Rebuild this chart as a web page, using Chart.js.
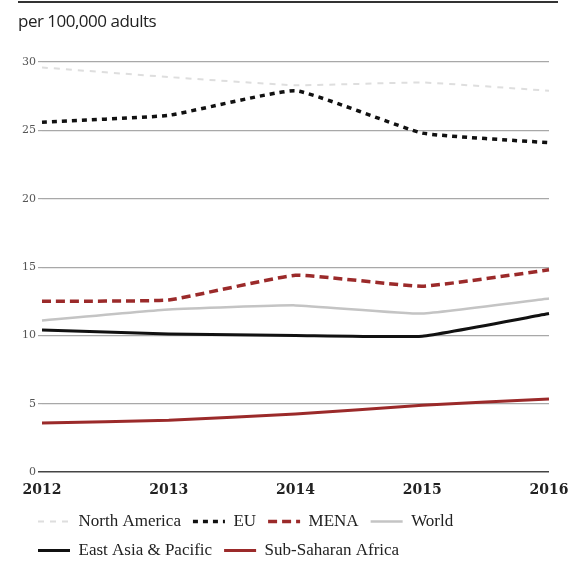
<!DOCTYPE html>
<html>
<head>
<meta charset="utf-8">
<script src="https://cdn.jsdelivr.net/npm/chart.js@4"></script>
<style>
  body { margin: 0; background: #fff; }
  #wrap { position: relative; width: 571px; height: 561px; }
  #rule { position: absolute; left: 18px; top: 1px; width: 540px; border-top: 2px solid #333; }
  #title { position: absolute; left: 18px; top: 9px; font-family: "Open Sans", sans-serif; font-size: 17px; color: #222; letter-spacing: -0.5px; }
  #myChart { position: absolute; left: 0; top: 0; }
</style>
</head>
<body>
<div id="wrap">
  <canvas id="myChart" width="571" height="561"></canvas>
  <div id="rule"></div>
  <div id="title">per 100,000 adults</div>
</div>
<script>
const years = ['2012', '2013', '2014', '2015', '2016'];
const northAmerica = [29.6, 28.9, 28.3, 28.5, 27.9];
const eu = [25.6, 26.1, 27.9, 24.8, 24.1];
const mena = [12.5, 12.6, 14.4, 13.6, 14.8];
const world = [11.1, 11.9, 12.2, 11.6, 12.7];
const eastAsia = [10.4, 10.1, 10.0, 9.95, 11.6];
const subSaharan = [3.6, 3.8, 4.25, 4.9, 5.35];

const ctx = document.querySelector('#myChart').getContext('2d');

// nudge the legend right so it lines up under the plot
const legendShift = {
    id: 'legendShift',
    afterLayout(chart) {
        chart.legend.left += 10;
        chart.legend.right += 10;
    },
};

const myChart = new Chart(ctx, {
    type: 'line',
    data: {
        labels: years,
        datasets: [
            { label: 'North America', data: northAmerica, borderColor: '#dedede', borderWidth: 2, borderDash: [6, 6] },
            { label: 'EU', data: eu, borderColor: '#111', borderWidth: 3.5, borderDash: [5, 5] },
            { label: 'MENA', data: mena, borderColor: '#9b2a2a', borderWidth: 3.5, borderDash: [9, 5] },
            { label: 'World', data: world, borderColor: '#c4c4c4', borderWidth: 2.5 },
            { label: 'East Asia & Pacific', data: eastAsia, borderColor: '#111', borderWidth: 3 },
            { label: 'Sub-Saharan Africa', data: subSaharan, borderColor: '#9b2a2a', borderWidth: 3 },
        ],
    },
    plugins: [legendShift],
    options: {
        responsive: false,
        animation: false,
        layout: { padding: { top: 62, right: 22, left: 16, bottom: -8 } },
        elements: { point: { radius: 0 }, line: { tension: 0.12, borderCapStyle: 'butt' } },
        plugins: {
            legend: {
                position: 'bottom',
                align: 'start',
                labels: {
                    usePointStyle: true,
                    pointStyle: 'line',
                    pointStyleWidth: 32,
                    boxWidth: 32,
                    color: '#222',
                    padding: 12,
                    font: { family: '"Liberation Serif", serif', size: 17 },
                    // legend swatches should copy the dataset line, dashes included
                    generateLabels: (chart) => chart.data.datasets.map((ds, i) => ({
                        text: ds.label,
                        datasetIndex: i,
                        strokeStyle: ds.borderColor,
                        fillStyle: ds.borderColor,
                        lineWidth: ds.borderWidth,
                        lineDash: ds.borderDash || [],
                        pointStyle: 'line',
                        hidden: false,
                        fontColor: '#222',
                    })),
                },
            },
            tooltip: { enabled: false },
        },
        scales: {
            x: {
                grid: { display: false },
                border: { display: false },
                ticks: {
                    color: '#222',
                    padding: 2,
                    maxRotation: 0,
                    font: { family: '"DejaVu Serif", serif', size: 14, weight: 'bold' },
                },
            },
            y: {
                min: 0,
                max: 30,
                border: { display: false },
                afterFit: (scale) => { scale.width = 26; },
                grid: {
                    color: (c) => c.tick.value === 0 ? '#444' : '#a8a8a8',
                    lineWidth: (c) => c.tick.value === 0 ? 1.5 : 1.2,
                    drawTicks: true,
                    tickLength: 4,
                },
                ticks: {
                    stepSize: 5,
                    color: '#555',
                    padding: 2,
                    font: { family: '"DejaVu Serif", serif', size: 11 },
                },
            },
        },
    },
});
</script>
</body>
</html>
